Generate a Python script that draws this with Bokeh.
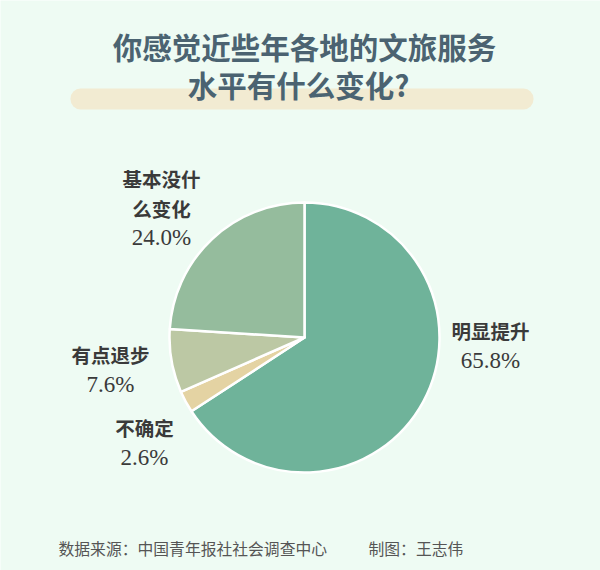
import math
from bokeh.plotting import figure
from bokeh.models import ColumnDataSource, BoxAnnotation
from bokeh.core.properties import value
from bokeh.embed import file_html
from bokeh.resources import INLINE

# ---- data ----
categories = ["明显提升", "不确定", "有点退步", "基本没什么变化"]
shares = [65.8, 2.6, 7.6, 24.0]
colors = ["#6FB39A", "#E4D3A3", "#BCC8A4", "#95BC9D"]
label_lines = [["明显提升"], ["不确定"], ["有点退步"], ["基本没什", "么变化"]]
pct_labels = ["65.8%", "2.6%", "7.6%", "24.0%"]

title_lines = ["你感觉近些年各地的文旅服务", "水平有什么变化?"]
source_text = "数据来源：中国青年报社社会调查中心"
credit_text = "制图：王志伟"

# ---- layout ----
W, H = 600, 570
BG = "#EEFBF3"
CJK = "Noto Sans CJK SC"
SERIF = "Liberation Serif"

cx, cy, R = 304, 233, 135
label_pos = [(490, 240), (144, 143), (110, 216), (161, 392)]
line_gap = 29.5

p = figure(width=W, height=H, x_range=(0, W), y_range=(0, H),
           x_axis_type=None, y_axis_type=None, toolbar_location=None,
           output_backend="svg", min_border=0)
p.grid.visible = False
p.outline_line_color = None
p.background_fill_color = BG
p.border_fill_color = BG

# banner behind title
p.add_layout(BoxAnnotation(left=70, right=533, bottom=461, top=482,
                           fill_color="#F2EBD2", fill_alpha=1.0,
                           line_color=None, border_radius=10, level="underlay"))

# title
title_x = [304, 298]
title_y = [525, 487]
for t, tx, ty in zip(title_lines, title_x, title_y):
    p.text(x=[tx], y=[ty], text=[t], text_font=value(CJK),
           text_font_size="29.5px", text_font_style="bold", text_color="#4B6371",
           text_align="center", text_baseline="middle")

# pie
total = sum(shares)
starts, ends = [], []
acc = 0.0
for s in shares:
    starts.append(math.pi / 2 - 2 * math.pi * acc / total)
    acc += s
    ends.append(math.pi / 2 - 2 * math.pi * acc / total)
src = ColumnDataSource(dict(start=starts, end=ends, color=colors, cat=categories))
p.wedge(x=cx, y=cy, radius=R, start_angle="start", end_angle="end",
        direction="clock", fill_color="color", line_color="#FFFFFF",
        line_width=2.5, line_join="round", source=src)

# labels
for (lx, ly), lines, pct in zip(label_pos, label_lines, pct_labels):
    for j, ln in enumerate(lines):
        p.text(x=[lx], y=[ly - line_gap * j], text=[ln], text_font=value(CJK),
               text_font_size="19.5px", text_font_style="bold", text_color="#3A3A3A",
               text_align="center", text_baseline="middle")
    p.text(x=[lx], y=[ly - line_gap * len(lines)], text=[pct],
           text_font=value(SERIF), text_font_size="23px", text_color="#3A3A3A",
           text_align="center", text_baseline="middle")

# footer
p.text(x=[58], y=[22], text=[source_text], text_font=value(CJK),
       text_font_size="15.8px", text_color="#555555", text_align="left",
       text_baseline="middle")
p.text(x=[368], y=[22], text=[credit_text], text_font=value(CJK),
       text_font_size="15.8px", text_color="#555555", text_align="left",
       text_baseline="middle")

open("out.html", "w").write(file_html(p, INLINE))
